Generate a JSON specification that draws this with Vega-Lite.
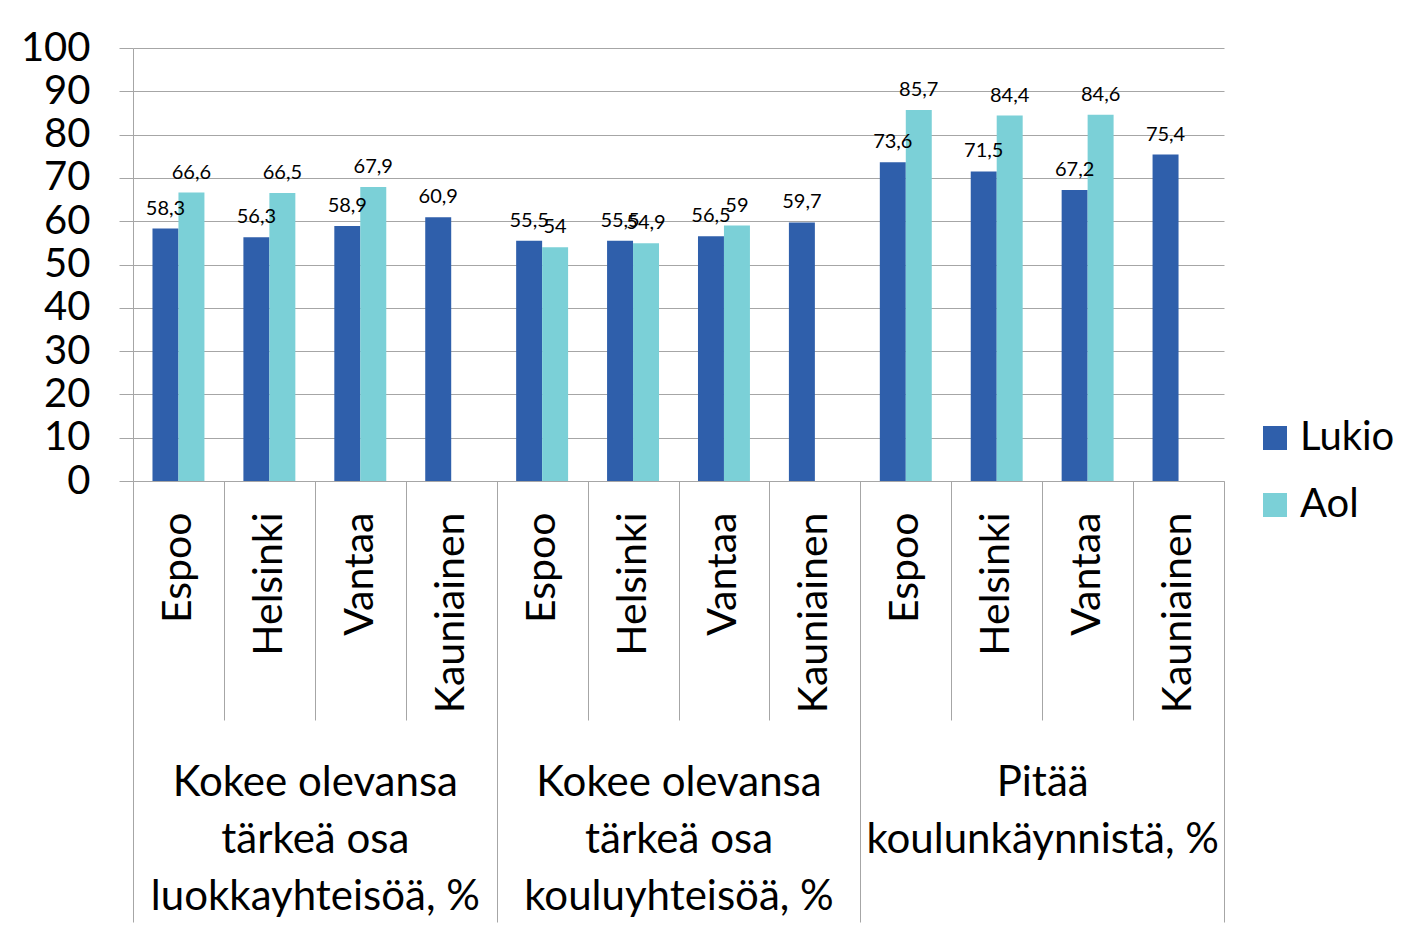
{
  "$schema": "https://vega.github.io/schema/vega-lite/v6.json",
  "width": 1091,
  "height": 433,
  "autosize": {"type": "none"},
  "padding": {"left": 133, "top": 48, "right": 180, "bottom": 447},
  "background": "white",
  "config": {
    "font": "Lato",
    "view": {"stroke": null},
    "axis": {"labelColor": "black"},
    "locale": {"number": {"decimal": ",", "thousands": "\u00a0", "grouping": [3], "currency": ["", " €"]}}
  },
  "data": {
    "values": [
      {"grp": "Kokee olevansa|tärkeä osa|luokkayhteisöä, %", "key": "1|Espoo", "series": "Lukio", "value": 58.3},
      {"grp": "Kokee olevansa|tärkeä osa|luokkayhteisöä, %", "key": "1|Espoo", "series": "Aol", "value": 66.6},
      {"grp": "Kokee olevansa|tärkeä osa|luokkayhteisöä, %", "key": "1|Helsinki", "series": "Lukio", "value": 56.3},
      {"grp": "Kokee olevansa|tärkeä osa|luokkayhteisöä, %", "key": "1|Helsinki", "series": "Aol", "value": 66.5},
      {"grp": "Kokee olevansa|tärkeä osa|luokkayhteisöä, %", "key": "1|Vantaa", "series": "Lukio", "value": 58.9},
      {"grp": "Kokee olevansa|tärkeä osa|luokkayhteisöä, %", "key": "1|Vantaa", "series": "Aol", "value": 67.9},
      {"grp": "Kokee olevansa|tärkeä osa|luokkayhteisöä, %", "key": "1|Kauniainen", "series": "Lukio", "value": 60.9},
      {"grp": "Kokee olevansa|tärkeä osa|kouluyhteisöä, %", "key": "2|Espoo", "series": "Lukio", "value": 55.5},
      {"grp": "Kokee olevansa|tärkeä osa|kouluyhteisöä, %", "key": "2|Espoo", "series": "Aol", "value": 54},
      {"grp": "Kokee olevansa|tärkeä osa|kouluyhteisöä, %", "key": "2|Helsinki", "series": "Lukio", "value": 55.5},
      {"grp": "Kokee olevansa|tärkeä osa|kouluyhteisöä, %", "key": "2|Helsinki", "series": "Aol", "value": 54.9},
      {"grp": "Kokee olevansa|tärkeä osa|kouluyhteisöä, %", "key": "2|Vantaa", "series": "Lukio", "value": 56.5},
      {"grp": "Kokee olevansa|tärkeä osa|kouluyhteisöä, %", "key": "2|Vantaa", "series": "Aol", "value": 59},
      {"grp": "Kokee olevansa|tärkeä osa|kouluyhteisöä, %", "key": "2|Kauniainen", "series": "Lukio", "value": 59.7},
      {"grp": "Pitää|koulunkäynnistä, %", "key": "3|Espoo", "series": "Lukio", "value": 73.6},
      {"grp": "Pitää|koulunkäynnistä, %", "key": "3|Espoo", "series": "Aol", "value": 85.7},
      {"grp": "Pitää|koulunkäynnistä, %", "key": "3|Helsinki", "series": "Lukio", "value": 71.5},
      {"grp": "Pitää|koulunkäynnistä, %", "key": "3|Helsinki", "series": "Aol", "value": 84.4},
      {"grp": "Pitää|koulunkäynnistä, %", "key": "3|Vantaa", "series": "Lukio", "value": 67.2},
      {"grp": "Pitää|koulunkäynnistä, %", "key": "3|Vantaa", "series": "Aol", "value": 84.6},
      {"grp": "Pitää|koulunkäynnistä, %", "key": "3|Kauniainen", "series": "Lukio", "value": 75.4}
    ]
  },
  "layer": [
    {
      "layer": [
        {
          "mark": {"type": "bar"},
          "encoding": {
            "x": {
              "field": "key", "type": "nominal", "sort": null,
              "scale": {"paddingInner": 0, "paddingOuter": 0},
              "axis": {
                "title": null, "labelExpr": "isValid(datum.value) ? split(datum.value, '|')[1] : ''", "labelAngle": -90,
                "labelFontSize": 41, "labelPadding": -208, "labelLimit": 1000, "tickSize": 239, "tickBand": "extent",
                "tickColor": "#A6A6A6", "tickWidth": 1, "domain": false, "labelOverlap": false
              }
            },
            "xOffset": {"field": "series", "type": "nominal", "scale": {"domain": ["Lukio", "Aol"], "paddingInner": 0, "paddingOuter": 0.75}},
            "y": {
              "field": "value", "type": "quantitative", "scale": {"domain": [0, 100]},
              "axis": {
                "title": null, "values": [0, 10, 20, 30, 40, 50, 60, 70, 80, 90, 100],
                "labelFontSize": 40, "labelPadding": 29, "tickSize": 14, "tickColor": "#A6A6A6",
                "gridColor": "#A6A6A6", "domainColor": "#A6A6A6", "grid": true
              }
            },
            "color": {
              "field": "series", "type": "nominal",
              "scale": {"domain": ["Lukio", "Aol"], "range": ["#2F5FAB", "#7BD0D7"]},
              "legend": {
                "title": null, "orient": "none", "legendX": 1122, "legendY": 370,
                "symbolType": "square", "symbolSize": 576, "symbolStrokeWidth": 0, "symbolOpacity": 1,
                "labelFontSize": 40, "labelColor": "black", "labelOffset": 5, "rowPadding": 27, "labelLimit": 1000
              }
            }
          }
        },
        {
          "mark": {"type": "text", "baseline": "alphabetic", "dy": -14, "fontSize": 20, "color": "black"},
          "encoding": {
            "x": {"field": "key", "type": "nominal", "sort": null},
            "xOffset": {"field": "series", "type": "nominal"},
            "y": {"field": "value", "type": "quantitative"},
            "text": {"field": "value", "type": "quantitative", "format": ".1~f"}
          }
        }
      ]
    },
    {
      "mark": {"type": "rule", "opacity": 0},
      "encoding": {
        "x": {
          "field": "grp", "type": "nominal", "sort": null,
          "scale": {"paddingInner": 0, "paddingOuter": 0},
          "axis": {
            "orient": "bottom", "title": null, "labelExpr": "isValid(datum.value) ? split(datum.value, '|') : ''",
            "labelAngle": 0, "labelFontSize": 42, "labelLineHeight": 57, "labelPadding": -160, "labelLimit": 1000,
            "labelBaseline": "top", "labelAlign": "center", "tickSize": 441, "tickBand": "extent",
            "tickColor": "#A6A6A6", "tickWidth": 1, "domain": false, "labelOverlap": false
          }
        }
      }
    }
  ],
  "resolve": {"scale": {"x": "independent"}, "axis": {"x": "independent"}}
}
